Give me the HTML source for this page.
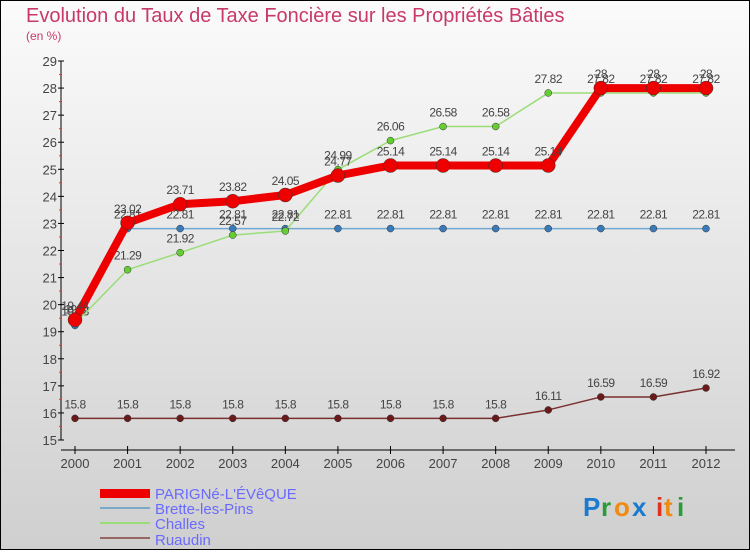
<!DOCTYPE html>
<html><head><meta charset="utf-8"><style>
body{margin:0}
#c{width:750px;height:550px;position:relative;font-family:"Liberation Sans",sans-serif;}
</style></head><body>
<div id="c">
<svg id="s" width="750" height="550" xmlns="http://www.w3.org/2000/svg">
<defs><linearGradient id="bg" x1="0" y1="0" x2="0" y2="1"><stop offset="0" stop-color="#fbfbfb"/><stop offset="1" stop-color="#cfcfcf"/></linearGradient></defs>
<rect x="0.5" y="0.5" width="749" height="549" fill="url(#bg)" stroke="#000"/>
<text x="26" y="22" font-size="20" fill="#c8386a">Evolution du Taux de Taxe Foncière sur les Propriétés Bâties</text>
<text x="26" y="40" font-size="12" fill="#c8386a">(en %)</text>
<g id="axes"></g><g id="series"></g>
<g>
<rect x="100" y="489" width="50" height="9" fill="#e00"/>
<text x="155" y="499" font-size="15" fill="#6a6aff">PARIGNé-L'ÉVêQUE</text>
<rect x="100" y="507" width="50" height="2" fill="#7aaac8"/>
<text x="155" y="514" font-size="15" fill="#6a6aff">Brette-les-Pins</text>
<rect x="100" y="522" width="50" height="2" fill="#99dd77"/>
<text x="155" y="529" font-size="15" fill="#6a6aff">Challes</text>
<rect x="100" y="537" width="50" height="2" fill="#996666"/>
<text x="155" y="545" font-size="15" fill="#6a6aff">Ruaudin</text>
</g>
<g font-size="26" font-weight="bold">
<text x="583" y="516" fill="#1a7ad0">P</text><text x="601" y="516" fill="#2a9a3a">r</text><text x="614" y="516" fill="#f08a10">o</text><text x="632" y="516" fill="#1a7ad0">x</text><text x="656" y="516" fill="#e03020">i</text><text x="664" y="516" fill="#f08a10">t</text><text x="677" y="516" fill="#2a9a3a">i</text>
</g>
</svg>
</div>
<script>
const years=[2000,2001,2002,2003,2004,2005,2006,2007,2008,2009,2010,2011,2012];
const yTicks=[15,16,17,18,19,20,21,22,23,24,25,26,27,28,29];
const parigne=[19.44,23.02,23.71,23.82,24.05,24.77,25.14,25.14,25.14,25.14,28,28,28];
const brette=[19.23,22.81,22.81,22.81,22.81,22.81,22.81,22.81,22.81,22.81,22.81,22.81,22.81];
const challes=[19.3,21.29,21.92,22.57,22.72,24.99,26.06,26.58,26.58,27.82,27.82,27.82,27.82];
const ruaudin=[15.8,15.8,15.8,15.8,15.8,15.8,15.8,15.8,15.8,16.11,16.59,16.59,16.92];
const NS="http://www.w3.org/2000/svg";
const xS=i=>75+i*(706-75)/(years.length-1);
const yS=v=>440-(v-15)*(440-61)/14;
function mk(t,a,p){const e=document.createElementNS(NS,t);for(const k in a)e.setAttribute(k,a[k]);p.appendChild(e);return e;}
const ax=document.getElementById('axes');
const yl=mk('line',{x1:61,y1:61,x2:61,y2:440,stroke:'#000'},ax);


yTicks.forEach(v=>{
 mk('line',{x1:58,y1:yS(v),x2:64,y2:yS(v),stroke:'#000'},ax);
 if(v<29) mk('line',{x1:59,y1:yS(v+0.5),x2:62,y2:yS(v+0.5),stroke:'#e33'},ax);
 const t=mk('text',{x:57,y:yS(v)+5,'font-size':13,fill:'#444','text-anchor':'end'},ax);t.textContent=v;
 
 
});
const xl=mk('line',{x1:61,y1:450,x2:735,y2:450,stroke:'#000'},ax);


years.forEach((y,i)=>{
 mk('line',{x1:xS(i),y1:446,x2:xS(i),y2:454,stroke:'#000'},ax);
 const t=mk('text',{x:xS(i),y:468,'font-size':13,fill:'#444','text-anchor':'middle'},ax);t.textContent=y;
 
 
});
const sg=document.getElementById('series');
function draw(vals,name,color,w,ptColor,r){
 const g=mk('g',{},sg);
 
 
 mk('polyline',{points:vals.map((v,i)=>xS(i)+','+yS(v)).join(' '),fill:'none',stroke:color,'stroke-width':w,'stroke-linejoin':'round'},g);
 vals.forEach((v,i)=>{
  const c=mk('circle',{cx:xS(i),cy:yS(v),r:r,fill:ptColor,stroke:'#333','stroke-width':0.5},g);
  
  
  const t=mk('text',{x:xS(i),y:yS(v)-10,'font-size':12,fill:'#444','text-anchor':'middle','letter-spacing':'-0.5'},g);
  t.textContent=v;
  
  
 });
}
draw(ruaudin,'ruaudin','#7a3030',1.5,'#6a1a1a',3.5);
draw(brette,'brette','#6fa8d0',1.5,'#3a7ab8',3.5);
draw(challes,'challes','#99dd77',1.5,'#66cc33',3.5);
draw(parigne,'parigne','#ee0000',8,'#ee0000',7);
</script>
</body></html>
